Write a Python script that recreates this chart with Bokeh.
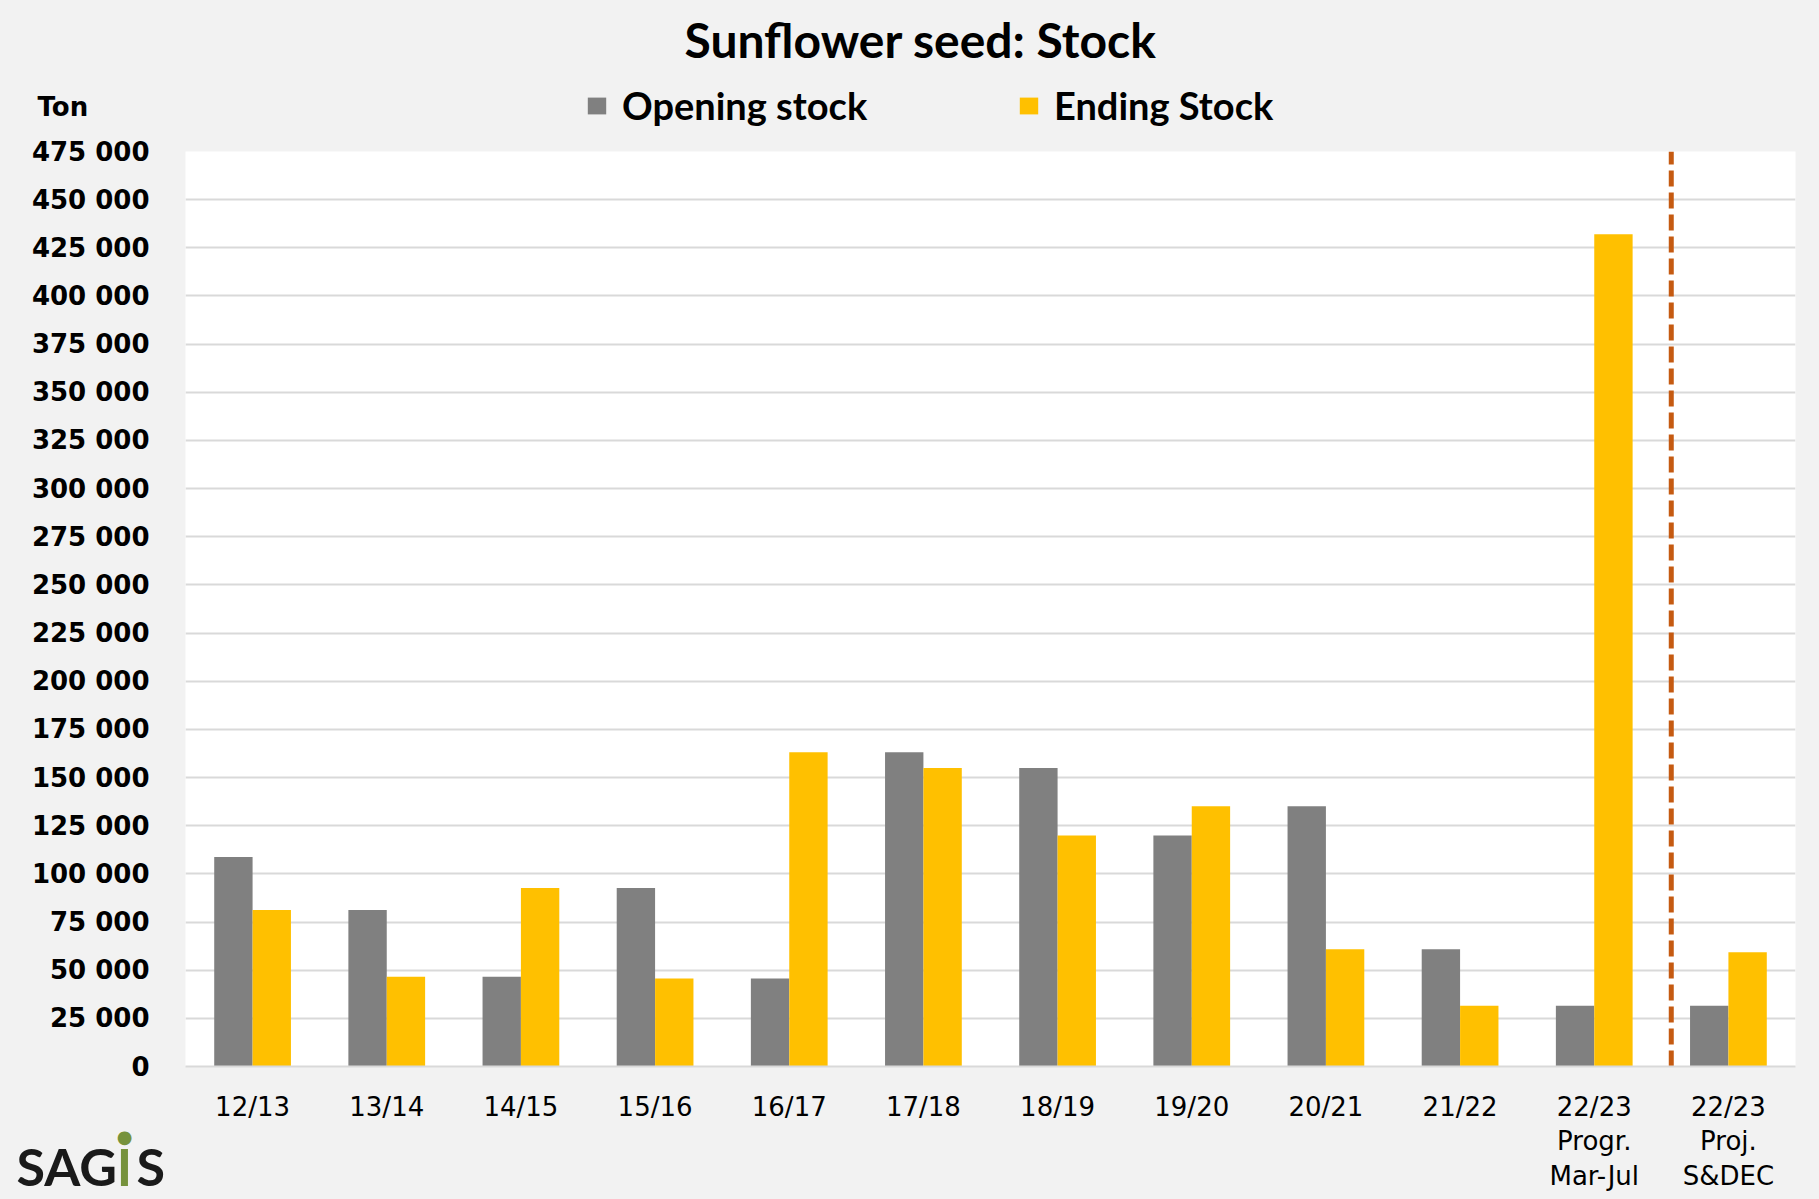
from bokeh.plotting import figure
from bokeh.layouts import column, row
from bokeh.models import (ColumnDataSource, FactorRange, Range1d, FixedTicker,
                          Legend, LegendItem, Label)
from bokeh.transform import dodge
from bokeh.embed import file_html
from bokeh.resources import INLINE

# ---- data ----
seasons = ["12/13", "13/14", "14/15", "15/16", "16/17", "17/18", "18/19",
           "19/20", "20/21", "21/22", "22/23\nProgr.\nMar-Jul", "22/23\nProj.\nS&DEC"]
opening_stock = [108700, 81300, 46600, 92600, 45700, 163200, 154900,
                 119900, 135100, 60900, 31500, 31500]
ending_stock = [81300, 46600, 92600, 45700, 163200, 154900, 119900,
                135100, 60900, 31500, 432000, 59300]
y_ticks = list(range(0, 475001, 25000))
y_tick_labels = {t: f"{t:,}".replace(",", " ") for t in y_ticks}
title_text = "Sunflower seed: Stock"
unit_text = "Ton"
series_names = ["Opening stock", "Ending Stock"]
divider_x = [11.074]          # between "Progr." and "Proj." seasons (categorical synthetic coord)
divider_y0 = [0]
divider_y1 = [475000]
Y_MAX = 475000

GREY = "#808080"
GOLD = "#ffc000"
BG = "#f2f2f2"
GRID = "#d9d9d9"
LOGO_GREEN = "#76923c"
LOGO_DARK = "#1a1a1a"

# ---- layout geometry (pixels) ----
W, H = 1819, 1199
HDR_H = 136
LEFT_W = 185
TOP_PAD = 15
FRAME_H = 915
BOTTOM_PAD = H - HDR_H - TOP_PAD - FRAME_H


def allow_free_frame(fig):
    if "frame_align" in fig.properties():
        fig.frame_align = False


def no_borders(fig):
    fig.min_border_left = 0
    fig.min_border_right = 0
    fig.min_border_top = 0
    fig.min_border_bottom = 0


# ---------------- header: title, unit, legend ----------------
hdr = figure(width=W, height=HDR_H, x_range=Range1d(0, W), y_range=Range1d(0, HDR_H),
             output_backend="svg", toolbar_location=None, title=title_text)
no_borders(hdr)
allow_free_frame(hdr)
hdr.xaxis.visible = False
hdr.yaxis.visible = False
hdr.grid.visible = False
hdr.background_fill_color = BG
hdr.border_fill_color = BG
hdr.outline_line_color = None
hdr.title.text_font = "Lato"
hdr.title.text_font_size = "48px"
hdr.title.text_font_style = "bold"
hdr.title.text_color = "black"
hdr.title.align = "left"
hdr.title.offset = 684
hdr.title.vertical_align = "middle"
hdr.title.standoff = 18

# legend swatch proxies (a single zero-height bar each, only used for the legend swatches)
proxy = ColumnDataSource(dict(x=[0], top=[0]))
lg1 = hdr.vbar(x="x", top="top", width=1, source=proxy, fill_color=GREY, line_color=None)
lg2 = hdr.vbar(x="x", top="top", width=1, source=proxy, fill_color=GOLD, line_color=None)
legend = Legend(items=[LegendItem(label=series_names[0], renderers=[lg1]),
                       LegendItem(label=series_names[1], renderers=[lg2])],
                orientation="horizontal", location=(585, 8), padding=0, margin=0,
                spacing=0, glyph_width=23, glyph_height=21, label_standoff=14,
                label_width=395, border_line_color=None, background_fill_alpha=0,
                label_text_font="Lato", label_text_font_size="38px",
                label_text_font_style="bold", label_text_color="black")
hdr.add_layout(legend)
hdr.add_layout(Label(x=37, y=HDR_H - 106.7, x_units="screen", y_units="screen", text=unit_text,
                     text_font="DejaVu Sans", text_font_style="bold", text_font_size="26px",
                     text_baseline="middle", text_align="left", text_color="black"))

# ---------------- main chart ----------------
src = ColumnDataSource(dict(season=seasons, opening=opening_stock, ending=ending_stock))

chart = figure(width=W - LEFT_W, height=H - HDR_H, x_range=FactorRange(*seasons),
               y_range=Range1d(0, Y_MAX), output_backend="svg", toolbar_location=None)
allow_free_frame(chart)
chart.min_border_left = 0
chart.min_border_right = 24
chart.min_border_top = TOP_PAD
chart.min_border_bottom = BOTTOM_PAD
chart.background_fill_color = "white"
chart.border_fill_color = BG
chart.outline_line_color = None

chart.vbar(x=dodge("season", -0.143, range=chart.x_range), top="opening", width=0.286,
           source=src, fill_color=GREY, line_color=None)
chart.vbar(x=dodge("season", 0.143, range=chart.x_range), top="ending", width=0.286,
           source=src, fill_color=GOLD, line_color=None)
chart.segment(x0=divider_x, y0=divider_y0, x1=divider_x, y1=divider_y1,
              line_color="#c55a11", line_width=5, line_dash="16 6")

chart.xaxis.major_label_text_font = "DejaVu Sans"
chart.xaxis.major_label_text_font_size = "26px"
chart.xaxis.major_label_text_color = "black"
chart.xaxis.major_label_text_line_height = 1.16
chart.xaxis.axis_line_color = GRID
chart.xaxis.axis_line_width = 2
chart.xaxis.major_tick_line_color = None
chart.xaxis.major_tick_out = 0
chart.xaxis.major_tick_in = 0
chart.xaxis.minor_tick_line_color = None
chart.xaxis.major_label_standoff = 25

chart.yaxis.ticker = FixedTicker(ticks=y_ticks)
chart.yaxis.visible = False
chart.xgrid.grid_line_color = None
chart.ygrid.grid_line_color = GRID
chart.ygrid.grid_line_width = 2

# ---------------- left strip: y axis + logo ----------------
# its range is the chart's value scale extended to the strip's full pixel height
ton_per_px = Y_MAX / FRAME_H
side = figure(width=LEFT_W, height=H - HDR_H, x_range=Range1d(0, LEFT_W),
              y_range=Range1d(-BOTTOM_PAD * ton_per_px, Y_MAX + TOP_PAD * ton_per_px),
              output_backend="svg", toolbar_location=None)
no_borders(side)
allow_free_frame(side)
side.background_fill_color = BG
side.border_fill_color = BG
side.outline_line_color = None
side.xaxis.visible = False
side.grid.visible = False
side.yaxis.fixed_location = LEFT_W
side.yaxis.ticker = FixedTicker(ticks=y_ticks)
side.yaxis.major_label_overrides = y_tick_labels
side.yaxis.major_label_text_font = "DejaVu Sans"
side.yaxis.major_label_text_font_size = "26px"
side.yaxis.major_label_text_font_style = "bold"
side.yaxis.major_label_text_color = "black"
side.yaxis.axis_line_color = None
side.yaxis.major_tick_line_color = None
side.yaxis.major_tick_out = 0
side.yaxis.major_tick_in = 0
side.yaxis.minor_tick_line_color = None
side.yaxis.major_label_standoff = 36

LOGO_MID = 34   # vertical centre of the logo letters, px above the bottom edge
for txt, x, align, color in [("SAG", 16, "left", LOGO_DARK), ("I", 124, "center", LOGO_GREEN),
                             ("S", 136, "left", LOGO_DARK)]:
    side.add_layout(Label(x=x, y=LOGO_MID, x_units="screen", y_units="screen", text=txt,
                          text_font="Lato", text_font_style="bold", text_font_size="52px",
                          text_baseline="middle", text_align=align, text_color=color))
side.add_layout(Label(x=124, y=63, x_units="screen", y_units="screen", text="●",
                      text_font="DejaVu Sans", text_font_size="18px",
                      text_baseline="middle", text_align="center", text_color=LOGO_GREEN))

bg_style = {"background-color": BG}
p = column(hdr, row(column(side, styles=bg_style), chart, styles=bg_style), styles=bg_style)

open("out.html", "w").write(file_html(p, INLINE))
